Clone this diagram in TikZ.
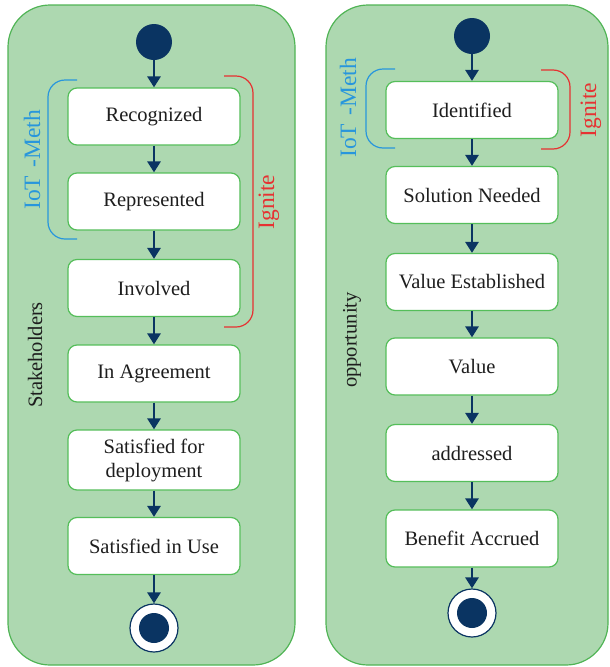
\documentclass[tikz,border=0pt]{standalone}
\usepackage{fontspec}
\setmainfont{Liberation Serif}
\usetikzlibrary{arrows.meta}
\definecolor{panelfill}{RGB}{173,216,176}
\definecolor{paneldraw}{RGB}{80,180,85}
\definecolor{boxdraw}{RGB}{85,190,90}
\definecolor{navy}{RGB}{10,52,98}
\definecolor{txt}{RGB}{30,30,30}
\definecolor{bracketblue}{RGB}{40,150,220}
\definecolor{bracketred}{RGB}{230,50,50}
\tikzset{
  panel/.style={draw=paneldraw, fill=panelfill, line width=1.2pt, rounded corners=42pt},
  state/.style={draw=boxdraw, fill=white, line width=1.2pt, rounded corners=9pt,
    minimum width=172pt, minimum height=57pt, text=txt, font=\fontsize{20.5}{24}\selectfont,
    align=center, inner sep=2pt},
  startnode/.style={circle, fill=navy, minimum size=36pt, inner sep=0pt},
  endnode/.style={circle, draw=navy, fill=white, line width=1.2pt, minimum size=48pt, inner sep=0pt},
  flow/.style={draw=navy, line width=2.8pt, -{Triangle[length=11pt,width=13pt]}},
  sidelabel/.style={rotate=90, font=\fontsize{20.5}{24}\selectfont, text=txt},
  methlabel/.style={rotate=90, font=\fontsize{23.5}{26}\selectfont},
  brk/.style={line width=1.2pt, rounded corners=17pt},
}
\begin{document}
\begin{tikzpicture}[x=1pt,y=-1pt]
\useasboundingbox (0,0) rectangle (610,667);
% panels
\draw[panel] (8,5) rectangle (295,665);
\draw[panel] (326,5) rectangle (608,665);

% left panel
\node[startnode] (ls) at (154,42) {};
\node[state] (l1) at (154,116.5) {Recognized};
\node[state] (l2) at (154,201.5) {Represented};
\node[state] (l3) at (154,288) {Involved};
\node[state] (l4) at (154,373.5) {In Agreement};
\node[state, minimum height=60pt] (l5) at (154,460) {Satisfied for\\deployment};
\node[state] (l6) at (154,546) {Satisfied in Use};
\node[endnode] (le) at (154,628) {};
\fill[navy] (le.center) circle (15pt);
\draw[flow] (ls) -- (l1);
\draw[flow] (l1) -- (l2);
\draw[flow] (l2) -- (l3);
\draw[flow] (l3) -- (l4);
\draw[flow] (l4) -- (l5);
\draw[flow] (l5) -- (l6);
\draw[flow] (l6) -- (le);
\draw[brk, draw=bracketblue] (77,80) -- (48,80) -- (48,239) -- (77,239);
\draw[brk, draw=bracketred] (224,76) -- (253,76) -- (253,327) -- (224,327);
\node[methlabel, text=bracketblue] (lb) at (32,160) {IoT\hspace{0.35em}-Meth};
\node[methlabel, text=bracketred] (lr) at (269,202) {Ignite};
\node[sidelabel] (lst) at (35,355) {Stakeholders};

% right panel
\node[startnode] (rs) at (472,36) {};
\node[state] (r1) at (472,110) {Identified};
\node[state] (r2) at (472,195) {Solution Needed};
\node[state] (r3) at (472,282) {Value Established};
\node[state] (r4) at (472,366.5) {Value};
\node[state] (r5) at (472,453) {addressed};
\node[state] (r6) at (472,538.5) {Benefit Accrued};
\node[endnode] (re) at (472,613) {};
\fill[navy] (re.center) circle (15pt);
\draw[flow] (rs) -- (r1);
\draw[flow] (r1) -- (r2);
\draw[flow] (r2) -- (r3);
\draw[flow] (r3) -- (r4);
\draw[flow] (r4) -- (r5);
\draw[flow] (r5) -- (r6);
\draw[flow] (r6) -- (re);
\draw[brk, draw=bracketblue] (395,69) -- (366,69) -- (366,148) -- (395,148);
\draw[brk, draw=bracketred] (541,70) -- (570,70) -- (570,149) -- (541,149);
\node[methlabel, text=bracketblue] (rb) at (348,108) {IoT\hspace{0.35em}-Meth};
\node[methlabel, text=bracketred] (rr) at (591,110) {Ignite};
\node[sidelabel] (rop) at (352,340) {opportunity};
\end{tikzpicture}
\end{document}
